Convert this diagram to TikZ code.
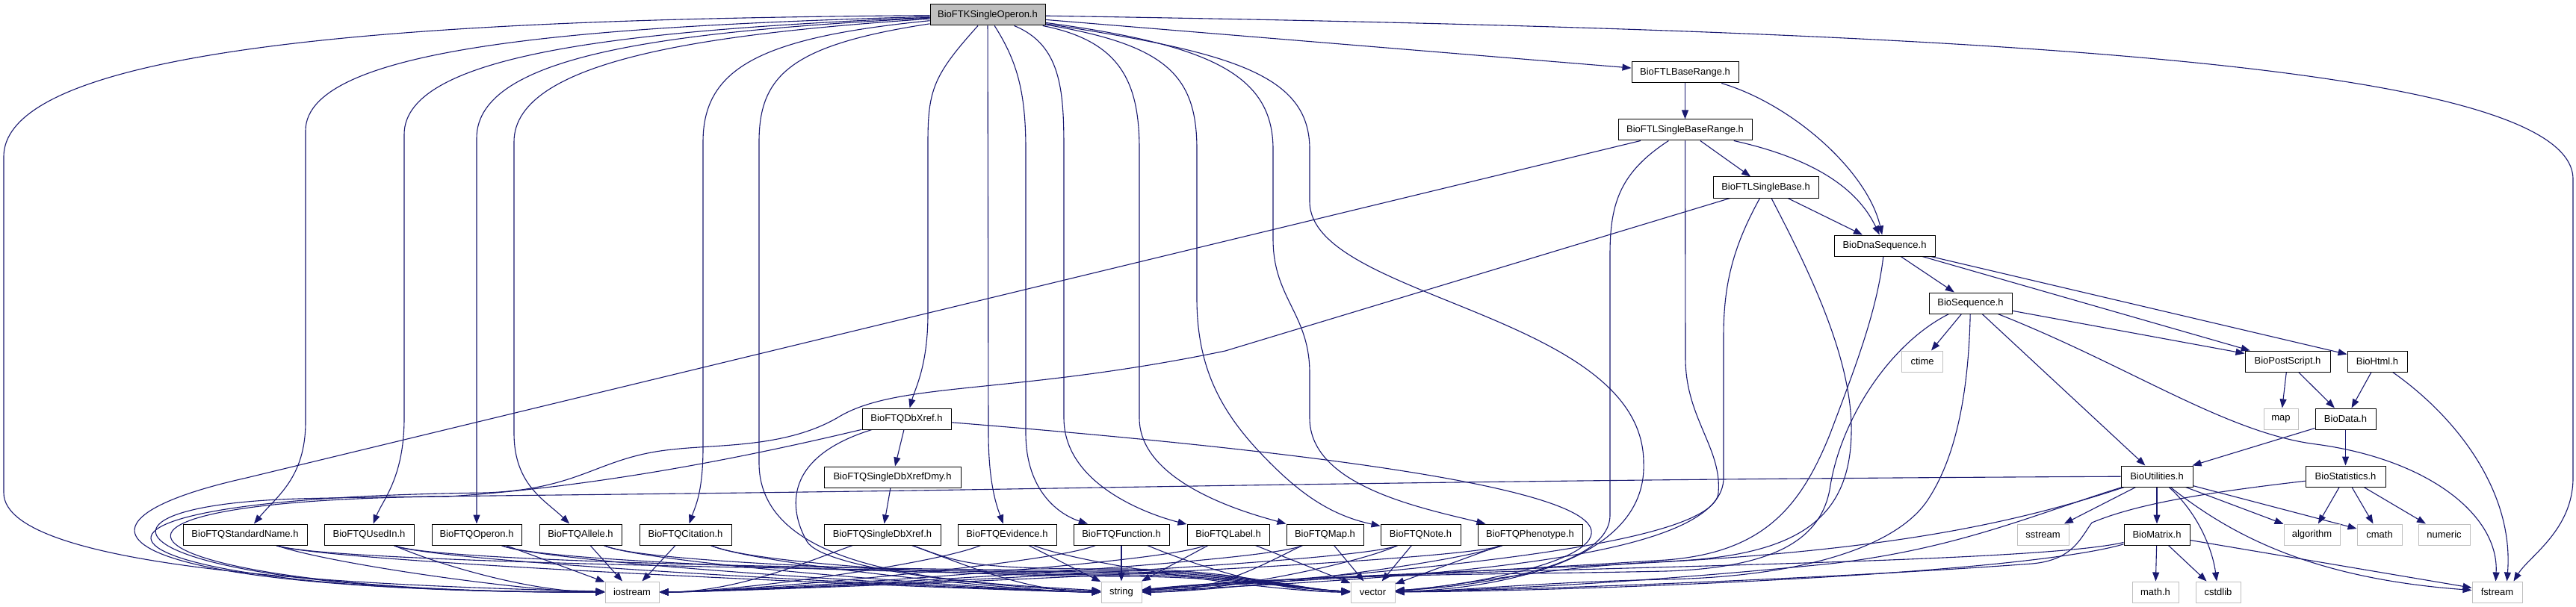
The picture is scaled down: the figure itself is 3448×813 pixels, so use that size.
\documentclass[tikz,border=0pt]{standalone}
\usepackage{fontspec}
\setmainfont{Liberation Sans}
\usetikzlibrary{arrows.meta,calc}
\definecolor{edgeblue}{HTML}{191970}
\definecolor{extgray}{HTML}{BFBFBF}
\pgfdeclarelayer{bg}
\pgfsetlayers{bg,main}
\newcommand{\myR}[2]{\draw[conn] (#1) .. controls ($(#1.south east)+(30,25)$) and ($(#2.west)+(-100,0)$) .. (#2);}
\newcommand{\myL}[2]{\draw[conn] (#1) .. controls ($(#1.south west)+(-30,25)$) and ($(#2.east)+(100,0)$) .. (#2);}
\newcommand{\myS}[2]{\draw[conn] (#1) -- (#2);}
\newcommand{\myV}[2]{\draw[conn] (#1) .. controls ($(#1.south east)+(30,25)$) and (1300,#2) .. (1500,#2) .. controls (1650,#2) and (1740,790) .. (vector);}
\begin{document}
\begin{tikzpicture}[x=1pt,y=-1pt,
  box/.style={draw=black, line width=1pt, fill=white, minimum height=28pt, inner sep=0pt, font=\fontsize{13}{15}\selectfont},
  rootbox/.style={box, fill=extgray},
  ext/.style={box, draw=extgray},
  conn/.style={draw=edgeblue, line width=1.1pt, -{Triangle[length=12pt,width=9pt]}}]
\useasboundingbox (0,0) rectangle (3448,813);
% nodes
\node[rootbox,minimum width=154pt] (root) at (1322,20) {BioFTKSingleOperon.h};
\node[box,minimum width=143pt] (baserange) at (2255.5,97) {BioFTLBaseRange.h};
\node[box,minimum width=179pt] (sbrange) at (2255.5,174) {BioFTLSingleBaseRange.h};
\node[box,minimum width=141pt] (sbase) at (2363.5,251) {BioFTLSingleBase.h};
\node[box,minimum width=135pt] (dna) at (2522.5,329) {BioDnaSequence.h};
\node[box,minimum width=111pt] (seq) at (2637.5,406) {BioSequence.h};
\node[ext,minimum width=55pt] (ctime) at (2573,484) {ctime};
\node[box,minimum width=114pt] (ps) at (3062,484) {BioPostScript.h};
\node[box,minimum width=80pt] (html) at (3182,484) {BioHtml.h};
\node[ext,minimum width=46pt] (map) at (3053,561) {map};
\node[box,minimum width=81pt] (data) at (3139.5,561) {BioData.h};
\node[box,minimum width=96pt] (util) at (2887,638) {BioUtilities.h};
\node[box,minimum width=107pt] (stat) at (3139.5,638) {BioStatistics.h};
\node[ext,minimum width=69pt] (sstream) at (2734.5,716) {sstream};
\node[box,minimum width=88pt] (matrix) at (2887,716) {BioMatrix.h};
\node[ext,minimum width=75pt] (algorithm) at (3094.5,716) {algorithm};
\node[ext,minimum width=60pt] (cmath) at (3185,716) {cmath};
\node[ext,minimum width=69pt] (numeric) at (3271.5,716) {numeric};
\node[ext,minimum width=62pt] (mathh) at (2885,793) {math.h};
\node[ext,minimum width=60pt] (cstdlib) at (2969,793) {cstdlib};
\node[ext,minimum width=67pt] (fstream) at (3342.5,793) {fstream};
\node[box,minimum width=166pt] (stdname) at (328,716) {BioFTQStandardName.h};
\node[box,minimum width=120pt] (usedin) at (494,716) {BioFTQUsedIn.h};
\node[box,minimum width=120pt] (operon) at (638,716) {BioFTQOperon.h};
\node[box,minimum width=110pt] (allele) at (777,716) {BioFTQAllele.h};
\node[box,minimum width=123pt] (citation) at (917.5,716) {BioFTQCitation.h};
\node[ext,minimum width=72pt] (iostream) at (846,793) {iostream};
\node[box,minimum width=119pt] (dbxref) at (1213.5,561) {BioFTQDbXref.h};
\node[box,minimum width=183pt] (dmy) at (1194.5,639) {BioFTQSingleDbXrefDmy.h};
\node[box,minimum width=156pt] (sdbxref) at (1181,716) {BioFTQSingleDbXref.h};
\node[box,minimum width=132pt] (evidence) at (1348,716) {BioFTQEvidence.h};
\node[box,minimum width=128pt] (function) at (1501,716) {BioFTQFunction.h};
\node[box,minimum width=110pt] (label) at (1644,716) {BioFTQLabel.h};
\node[box,minimum width=103pt] (map2) at (1773.5,716) {BioFTQMap.h};
\node[box,minimum width=107pt] (note) at (1901.5,716) {BioFTQNote.h};
\node[box,minimum width=140pt] (pheno) at (2048,716) {BioFTQPhenotype.h};
\node[ext,minimum width=54pt] (string) at (1501,793) {string};
\node[ext,minimum width=59pt] (vector) at (1837.5,793) {vector};
\begin{pgfonlayer}{bg}
\fill[white] (0,0) rectangle (3448,813);
% root edges
\draw[conn] (root) .. controls (700,25) and (5,45) .. (5,210) -- (5,660) .. controls (5,765) and (500,785) .. (iostream);
\draw[conn] (root) .. controls (800,35) and (409,60) .. (409,175) -- (409,565) .. controls (409,640) and (370,665) .. (stdname);
\draw[conn] (root) .. controls (850,40) and (541,70) .. (541,180) -- (541,560) .. controls (541,640) and (512,670) .. (usedin);
\draw[conn] (root) .. controls (900,42) and (638,72) .. (638,185) -- (operon);
\draw[conn] (root) .. controls (950,45) and (688,80) .. (688,190) -- (688,580) .. controls (688,650) and (730,670) .. (allele);
\draw[conn] (root) .. controls (1020,50) and (941,90) .. (941,190) -- (941,600) .. controls (941,660) and (930,680) .. (citation);
\draw[conn] (root) .. controls (1060,60) and (1016,100) .. (1016,190) -- (1016,620) .. controls (1016,775) and (1300,780) .. (string);
\draw[conn] (root) .. controls (1250,100) and (1242,120) .. (1242,190) -- (1242,420) .. controls (1242,490) and (1225,520) .. (dbxref);
\draw[conn] (root) -- (1323,580) .. controls (1323,650) and (1335,680) .. (evidence);
\draw[conn] (root) .. controls (1360,80) and (1373,120) .. (1373,200) -- (1373,580) .. controls (1373,660) and (1420,690) .. (function);
\draw[conn] (root) .. controls (1420,60) and (1424,120) .. (1424,200) -- (1424,560) .. controls (1424,650) and (1540,690) .. (label);
\draw[conn] (root) .. controls (1500,55) and (1525,110) .. (1525,200) -- (1525,560) .. controls (1525,650) and (1680,690) .. (map2);
\draw[conn] (root) .. controls (1560,60) and (1602,100) .. (1602,200) -- (1602,400) .. controls (1602,500) and (1640,560) .. (1700,620) .. controls (1740,660) and (1780,690) .. (note);
\draw[conn] (root) .. controls (1620,60) and (1704,100) .. (1704,200) -- (1704,320) .. controls (1704,400) and (1753,420) .. (1753,500) -- (1753,560) .. controls (1753,650) and (1900,680) .. (pheno);
\draw[conn] (root) .. controls (1650,70) and (1753,100) .. (1753,200) -- (1753,270) .. controls (1753,400) and (2200,420) .. (2200,620) .. controls (2205,760) and (1980,790) .. (vector);
\draw[conn] (root) -- (baserange);
\draw[conn] (root) .. controls (2600,40) and (3444,80) .. (3444,240) -- (3444,640) .. controls (3444,710) and (3385,745) .. ([xshift=22pt]fstream.north);
% BioFTL
\draw[conn] (baserange) -- (sbrange);
\draw[conn] (baserange) .. controls (2400,140) and (2500,230) .. (dna);
\draw[conn] (sbrange) -- (sbase);
\draw[conn] (sbrange) .. controls (2440,215) and (2490,260) .. (dna);
\draw[conn] (sbrange) -- (330,640) .. controls (60,700) and (120,792) .. (iostream);
\draw[conn] (sbrange) .. controls (2170,230) and (2155,270) .. (2155,340) -- (2155,690) .. controls (2155,760) and (1980,785) .. (vector);
\draw[conn] (sbrange) -- (2256,480) .. controls (2256,560) and (2305,600) .. (2300,660) .. controls (2295,730) and (1900,765) .. (string);
\draw[conn] (sbase) -- (dna);
\draw[conn] (sbase) -- (1640,470) .. controls (1350,530) and (1200,510) .. (1120,560) .. controls (1050,600) and (960,595) .. (900,602) .. controls (800,612) and (780,655) .. (650,660) .. controls (-30,668) and (100,795) .. (iostream);
\draw[conn] (sbase) .. controls (2320,330) and (2307,380) .. (2307,450) -- (2307,640) .. controls (2307,740) and (2000,770) .. (string);
\draw[conn] (sbase) .. controls (2420,360) and (2480,480) .. (2478,580) .. controls (2476,700) and (2400,745) .. (2230,752) .. controls (2060,760) and (1960,785) .. (vector);
% DNA / sequence
\draw[conn] (dna) -- (seq);
\draw[conn] (dna) -- (ps);
\draw[conn] (dna) -- (html);
\draw[conn] (dna) .. controls (2512,420) and (2480,500) .. (2450,580) .. controls (2410,680) and (2360,740) .. (2230,750) .. controls (2000,765) and (1750,775) .. (string);
\draw[conn] (seq) -- (ctime);
\draw[conn] (seq) -- (ps);
\draw[conn] (seq) -- (util);
\draw[conn] (seq) .. controls (2850,490) and (2980,580) .. (3100,595) .. controls (3250,615) and (3345,690) .. ([xshift=-2pt]fstream.north);
\draw[conn] (seq) .. controls (2530,460) and (2465,560) .. (2450,650) .. controls (2440,720) and (2380,760) .. (2230,765) .. controls (2000,770) and (1750,768) .. (string);
\draw[conn] (seq) .. controls (2635,520) and (2620,610) .. (2580,670) .. controls (2540,730) and (2420,772) .. (2230,776) .. controls (2050,780) and (1950,792) .. (vector);
\draw[conn] (ps) -- (map);
\draw[conn] (ps) -- (data);
\draw[conn] (html) -- (data);
\draw[conn] (html) .. controls (3290,560) and (3365,660) .. ([xshift=13pt]fstream.north);
\draw[conn] (data) -- (util);
\draw[conn] (data) -- (stat);
% utilities
\draw[conn] (util) -- (sstream);
\draw[conn] (util) -- (matrix);
\draw[conn] (util) -- (algorithm);
\draw[conn] (util) -- (cmath);
\draw[conn] (util) .. controls (2945,690) and (2962,740) .. (cstdlib);
\draw[conn] (util) .. controls (2990,720) and (3100,775) .. (fstream);
\draw[conn] (util) .. controls (2000,642) and (1400,655) .. (1150,658) .. controls (800,663) and (500,665) .. (400,668) .. controls (60,678) and (160,795) .. (iostream);
\draw[conn] (util) .. controls (2700,700) and (2550,730) .. (2300,748) .. controls (2050,765) and (1750,770) .. (string);
\draw[conn] (util) .. controls (2720,690) and (2620,735) .. (2450,755) .. controls (2200,780) and (2000,790) .. (vector);
\draw[conn] (stat) -- (algorithm);
\draw[conn] (stat) -- (cmath);
\draw[conn] (stat) -- (numeric);
\draw[conn] (stat) .. controls (2950,660) and (2860,675) .. (2800,700) .. controls (2785,720) and (2775,750) .. (2720,755) .. controls (2450,775) and (2050,790) .. (vector);
\draw[conn] (matrix) -- (mathh);
\draw[conn] (matrix) -- (cstdlib);
\draw[conn] (matrix) -- (fstream);
\draw[conn] (matrix) .. controls (2700,760) and (1800,760) .. (string);
\draw[conn] (matrix) .. controls (2700,770) and (2100,792) .. (vector);
% DbXref
\draw[conn] (dbxref) -- (dmy);
\draw[conn] (dbxref) .. controls (1000,612) and (800,652) .. (600,665) .. controls (0,670) and (170,795) .. (iostream);
\draw[conn] (dbxref) .. controls (1040,615) and (1060,690) .. (1080,725) .. controls (1100,760) and (1300,785) .. (string);
\draw[conn] (dbxref) .. controls (1700,600) and (2140,650) .. (2130,715) .. controls (2125,755) and (1960,785) .. (vector);
\draw[conn] (dmy) -- (sdbxref);
% qualifier leaves
\myR{stdname}{iostream} \myR{stdname}{string} \myV{stdname}{766}
\myR{usedin}{iostream} \myR{usedin}{string} \myV{usedin}{764}
\myS{operon}{iostream} \myR{operon}{string} \myV{operon}{770}
\myS{allele}{iostream} \myR{allele}{string} \myV{allele}{768}
\myS{citation}{iostream} \myR{citation}{string} \myV{citation}{772}
\myL{sdbxref}{iostream} \myR{sdbxref}{string} \myV{sdbxref}{762}
\myL{evidence}{iostream} \myS{evidence}{string} \myR{evidence}{vector}
\myL{function}{iostream} \myS{function}{string} \myR{function}{vector}
\myL{label}{iostream} \myS{label}{string} \myS{label}{vector}
\myL{map2}{iostream} \myL{map2}{string} \myS{map2}{vector}
\myL{note}{iostream} \myL{note}{string} \myS{note}{vector}
\myL{pheno}{iostream} \myL{pheno}{string} \myS{pheno}{vector}
\end{pgfonlayer}
\end{tikzpicture}
\end{document}
